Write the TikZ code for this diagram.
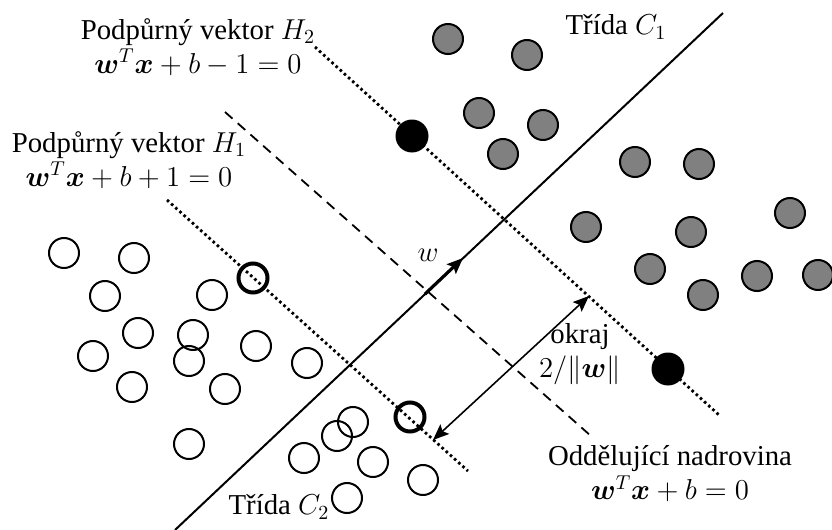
\documentclass[tikz,border=0pt]{standalone}
\usepackage{fontspec}
\setmainfont{Liberation Serif}[Ligatures=TeX]
\usepackage{bm}
\usetikzlibrary{arrows.meta}
\definecolor{ptgray}{HTML}{808080}

\tikzset{
  pt/.style={circle,draw,line width=1pt,minimum size=15pt,inner sep=0pt},
  ptone/.style={pt,fill=ptgray},
  pttwo/.style={pt},
  svone/.style={circle,fill=black,minimum size=16.5pt,inner sep=0pt},
  svtwo/.style={pt,line width=2pt,minimum size=14.5pt},
  supline/.style={line width=1.4pt,dash pattern=on 1.3pt off 1.5pt},
  hypline/.style={line width=.9pt,dash pattern=on 5pt off 3.5pt},
  lbl/.style={align=center,inner sep=0pt},
}

\begin{document}
\begin{tikzpicture}[x=.5pt,y=-.5pt,font=\rmfamily\fontsize{14.4}{17}\selectfont,
    >={Stealth[length=8pt,width=6.5pt,inset=1.5pt]}]
    \useasboundingbox (0,0) rectangle (832,530);

    % lines
    \coordinate (sa) at (175,530); \coordinate (sb) at (723,13);
    \coordinate (ha) at (225,112); \coordinate (hb) at (591,436);
    \coordinate (h2a) at (315,47); \coordinate (h2b) at (719,415);
    \coordinate (h1a) at (167,200); \coordinate (h1b) at (468,471);
    \draw[line width=1pt] (sa) -- (sb);
    \draw[hypline] (ha) -- (hb);
    \draw[supline] (h2a) -- (h2b);
    \draw[supline] (h1a) -- (h1b);

    % normal vector and margin
    \coordinate (wa) at (425,294); \coordinate (wb) at (463,258);
    \draw[->,line width=1.6pt] (wa) -- (wb);
    \coordinate (m1) at (433,440); \coordinate (m2) at (589,296);
    \draw[<->,line width=.8pt] (m1) -- (m2);

    % class C1
    \foreach \x/\y [count=\i] in {448/39,527/55,479/113,543/125,503/154,
        635/162,699/164,586/227,691/232,790/213,650/269,703/295,757/276,818/275}
      \node[ptone] (a\i) at (\x,\y) {};
    % class C2
    \foreach \x/\y [count=\i] in {64/253,134/258,105/296,212/295,138/333,
        193/335,93/356,189/361,256/346,307/363,132/387,225/389,189/444,
        353/422,337/436,304/458,373/462,347/498,423/480}
      \node[pttwo] (b\i) at (\x,\y) {};
    % support vectors
    \node[svone] (s1) at (412,136) {};
    \node[svone] (s2) at (668,369) {};
    \node[svtwo] (s3) at (253,278) {};
    \node[svtwo] (s4) at (410,417) {};

    \node[lbl] (h2lbl) at (198,47) {Podpůrný vektor $H_2$\\$\bm{w}^T\bm{x}+b-1=0$};
    \node[lbl] (h1lbl) at (129,160) {Podpůrný vektor $H_1$\\$\bm{w}^T\bm{x}+b+1=0$};
    \node[lbl] (c1lbl) at (616,27) {Třída $C_1$};
    \node[lbl] (c2lbl) at (279,507) {Třída $C_2$};
    \node[lbl] (wlbl) at (428,255) {$w$};
    \node[lbl] (mlbl) at (580,354) {okraj\\$2/\|\bm{w}\|$};
    \node[lbl] (hlbl) at (670,474) {Oddělující nadrovina\\$\bm{w}^T\bm{x}+b=0$};
  \end{tikzpicture}
\end{document}
